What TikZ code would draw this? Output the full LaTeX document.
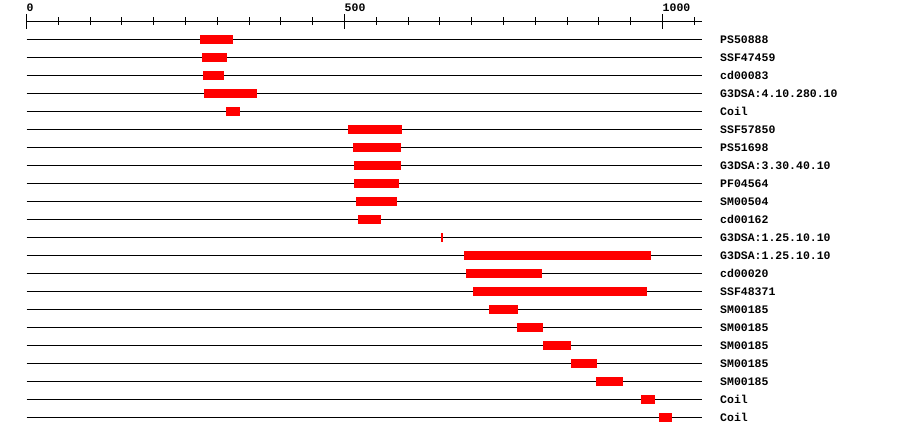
\documentclass[tikz,border=0pt]{standalone}
\usepackage{fontspec}
\setmonofont{Liberation Mono}
\usetikzlibrary{positioning}
\definecolor{hitRed}{RGB}{255,0,0}
\tikzset{
  track/.style={draw=black, line width=1pt},
  hit/.style={fill=hitRed, draw=none},
  rulernum/.style={anchor=base west, inner sep=0pt, font=\ttfamily\bfseries\fontsize{11.5}{12}\selectfont},
  trackname/.style={anchor=west, inner sep=0pt, font=\ttfamily\bfseries\fontsize{11.5}{12}\selectfont}
}
\newcommand{\seqlen}{1062}

\begin{document}
\begin{tikzpicture}[x=0.636pt,y=-1pt]
  \useasboundingbox (-41.67,0) rectangle (1373.43,436);
  % ruler
  \draw[track] (0,21.3) -- (\seqlen,21.3);
  \foreach \t in {0,50,...,1050} \draw[track] (\t,17.3) -- (\t,24.7);
  \foreach \t in {0,500,1000} {
    \draw[track] (\t,14) -- (\t,28.7);
    \node[rulernum] (num\t) at (\t,12) {\t};
  }
  % one line per hit
  \foreach \row/\name/\from/\to in {
      1/PS50888/273/324,
      2/SSF47459/276/315,
      3/cd00083/277.5/310.5,
      4/G3DSA:4.10.280.10/279/362,
      5/Coil/313.7/335.7,
      6/SSF57850/505.5/590,
      7/PS51698/513/589,
      8/G3DSA:3.30.40.10/515/589,
      9/PF04564/515/586,
      10/SM00504/518/582,
      11/cd00162/521/557,
      12/G3DSA:1.25.10.10/652/655,
      13/G3DSA:1.25.10.10/688/982,
      14/cd00020/691/811,
      15/SSF48371/702/976,
      16/SM00185/727/773,
      17/SM00185/771/812,
      18/SM00185/812/856,
      19/SM00185/856/897,
      20/SM00185/895/938,
      21/Coil/966/988,
      22/Coil/994/1015} {
    \pgfmathsetmacro{\ypos}{21.3+18*\row}
    \draw[track] (0,\ypos) -- (\seqlen,\ypos);
    \fill[hit] (\from,\ypos-4.5) rectangle (\to,\ypos+4.5);
    \node[trackname] (name\row) at (1090.4,\ypos) {\name};
  }
\end{tikzpicture}
\end{document}
